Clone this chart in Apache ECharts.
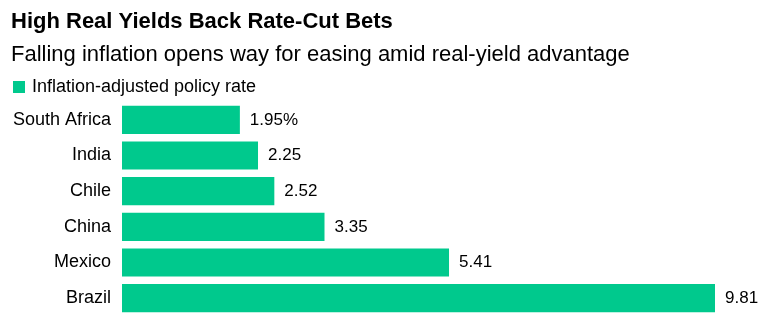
<!DOCTYPE html>
<html>
<head>
<meta charset="utf-8">
<script src="https://cdn.jsdelivr.net/npm/echarts@6/dist/echarts.min.js"></script>
<style>
  html, body { margin: 0; padding: 0; background: #fff; }
  #chart { width: 771px; height: 326px; }
</style>
</head>
<body>
<div id="chart"></div>
<script>
// Real (inflation-adjusted) policy rates by country, percent
const countries = ['South Africa', 'India', 'Chile', 'China', 'Mexico', 'Brazil'];
const realRates = [1.95, 2.25, 2.52, 3.35, 5.41, 9.81];
const seriesName = 'Inflation-adjusted policy rate';

const FONT = '"Liberation Sans", Arial, Helvetica, sans-serif';
const GREEN = '#00c98d';

const chart = echarts.init(document.getElementById('chart'), null, { renderer: 'canvas' });

chart.setOption({
  animation: false,
  backgroundColor: '#ffffff',
  title: [
    {
      text: 'High Real Yields Back Rate-Cut Bets',
      left: 6, top: 6,
      textStyle: { fontFamily: FONT, fontWeight: 'bold', fontSize: 22, color: '#000' }
    },
    {
      text: 'Falling inflation opens way for easing amid real-yield advantage',
      left: 6, top: 39,
      textStyle: { fontFamily: FONT, fontWeight: 'normal', fontSize: 22, color: '#000' }
    }
  ],
  legend: {
    left: 8, top: 73,
    icon: 'rect',
    itemWidth: 12, itemHeight: 12, itemGap: 6,
    textStyle: { fontFamily: FONT, fontSize: 18, color: '#000', padding: [0, 0, 0, 2] },
    data: [seriesName]
  },
  grid: { left: 122, right: 56, top: 102, bottom: 10, containLabel: false },
  xAxis: {
    type: 'value', min: 0, max: 9.81,
    show: false
  },
  yAxis: {
    type: 'category',
    data: countries,
    inverse: true,
    axisLine: { show: false },
    axisTick: { show: false },
    axisLabel: { fontFamily: FONT, fontSize: 18, color: '#000', margin: 11 }
  },
  series: [{
    name: seriesName,
    type: 'bar',
    data: realRates,
    barCategoryGap: '21%',
    itemStyle: { color: GREEN },
    label: {
      show: true,
      position: 'right',
      distance: 10,
      fontFamily: FONT, fontSize: 17, color: '#000',
      formatter: p => p.dataIndex === 0 ? p.value.toFixed(2) + '%' : p.value.toFixed(2)
    }
  }]
});
</script>
</body>
</html>
